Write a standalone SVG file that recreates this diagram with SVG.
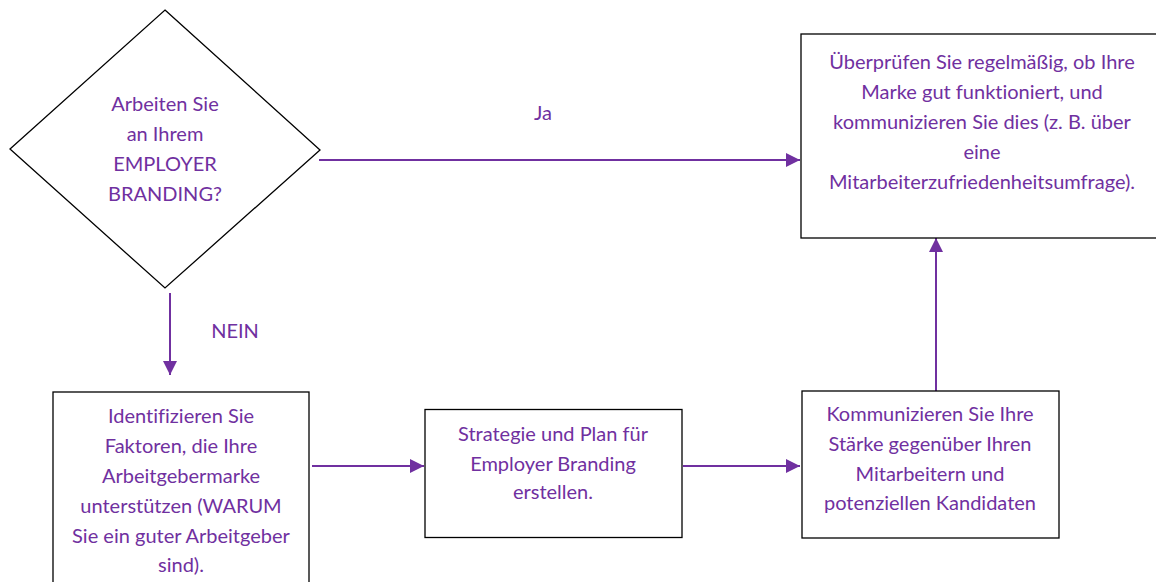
<svg xmlns="http://www.w3.org/2000/svg" width="1156" height="582" viewBox="0 0 1156 582">
<style>
.node{fill:#fff;stroke:#000;stroke-width:1.3}
.t{font-family:Lato,"Liberation Sans",sans-serif;font-size:20px;fill:#7030A0;text-anchor:middle;font-variant-ligatures:none}
.c{stroke:#7030A0;stroke-width:2;fill:none;marker-end:url(#ah)}
</style>
<defs>
<marker id="ah" markerUnits="userSpaceOnUse" markerWidth="16" markerHeight="16" viewBox="0 0 16 16" refX="15" refY="8" orient="auto">
<path d="M1,1 L15,8 L1,15 Z" fill="#7030A0"/>
</marker>
</defs>
<rect width="1156" height="582" fill="#fff"/>
<g id="connectors">
<path class="c" d="M319,160 H800"/>
<path class="c" d="M170,293 V375"/>
<path class="c" d="M312,466 H424"/>
<path class="c" d="M683,466 H800"/>
<path class="c" d="M936,395 V238"/>
<text class="t" x="543" y="120">Ja</text>
<text class="t" x="235" y="338">NEIN</text>
</g>
<g id="decision">
<polygon class="node" points="165,10 320,150 165,288 10,149"/>
<text class="t" x="165" y="111">Arbeiten Sie</text>
<text class="t" x="165" y="141">an Ihrem</text>
<text class="t" x="165" y="171">EMPLOYER</text>
<text class="t" x="165" y="201">BRANDING?</text>
</g>
<g id="review">
<rect class="node" x="801" y="34" width="370" height="204"/>
<text class="t" x="982" y="69">Überprüfen Sie regelmäßig, ob Ihre</text>
<text class="t" x="982" y="99">Marke gut funktioniert, und</text>
<text class="t" x="982" y="129">kommunizieren Sie dies (z. B. über</text>
<text class="t" x="982" y="159">eine</text>
<text class="t" x="982" y="189">Mitarbeiterzufriedenheitsumfrage).</text>
</g>
<g id="identify">
<rect class="node" x="53" y="392" width="256" height="210"/>
<text class="t" x="181" y="423">Identifizieren Sie</text>
<text class="t" x="181" y="453">Faktoren, die Ihre</text>
<text class="t" x="181" y="483">Arbeitgebermarke</text>
<text class="t" x="181" y="513">unterstützen (WARUM</text>
<text class="t" x="181" y="543">Sie ein guter Arbeitgeber</text>
<text class="t" x="181" y="572">sind).</text>
</g>
<g id="strategy">
<rect class="node" x="425" y="409.5" width="257" height="128"/>
<text class="t" x="553" y="441">Strategie und Plan für</text>
<text class="t" x="553" y="471">Employer Branding</text>
<text class="t" x="553" y="499">erstellen.</text>
</g>
<g id="communicate">
<rect class="node" x="802" y="391" width="257" height="147"/>
<text class="t" x="930" y="421">Kommunizieren Sie Ihre</text>
<text class="t" x="930" y="451">Stärke gegenüber Ihren</text>
<text class="t" x="930" y="481">Mitarbeitern und</text>
<text class="t" x="930" y="510">potenziellen Kandidaten</text>
</g>
</svg>
